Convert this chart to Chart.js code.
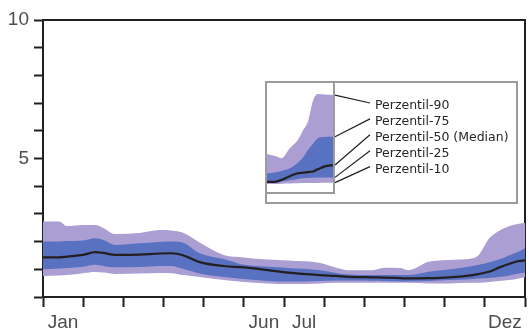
<!DOCTYPE html>
<html>
<head>
<meta charset="utf-8">
<script src="https://cdn.jsdelivr.net/npm/chart.js@4/dist/chart.umd.min.js"></script>
<style>
  html, body { margin: 0; padding: 0; background: #fff; }
  #wrap { position: relative; width: 529px; height: 334px; }
  #main { position: absolute; left: 0; top: 0; }
  #inset { position: absolute; left: 265px; top: 81px; }
</style>
</head>
<body>
<div id="wrap">
  <canvas id="main" width="529" height="334"></canvas>
  <canvas id="inset" width="253" height="123"></canvas>
</div>
<script>
// Monatsposition (0 = Anfang Jan, 12 = Ende Dez)
const monthPos = [0, 0.4, 0.6, 1.0, 1.3, 1.5, 1.8, 2.4, 2.9, 3.2, 3.5, 3.9, 4.5, 5.0, 5.6, 6.1, 6.9, 7.3, 7.6, 8.2, 8.5, 8.9, 9.1, 9.6, 10.1, 10.7, 10.85, 11.1, 11.35, 11.6, 11.85, 12];
const p90 = [2.73, 2.73, 2.56, 2.60, 2.60, 2.49, 2.27, 2.31, 2.42, 2.40, 2.31, 1.97, 1.52, 1.43, 1.35, 1.32, 1.23, 1.06, 0.97, 0.97, 1.06, 1.05, 0.97, 1.27, 1.34, 1.40, 1.52, 2.10, 2.38, 2.55, 2.64, 2.67];
const p75 = [2.00, 2.00, 2.02, 2.04, 2.12, 2.06, 1.88, 1.94, 1.99, 2.00, 1.95, 1.58, 1.37, 1.16, 1.09, 1.05, 0.97, 0.87, 0.81, 0.79, 0.79, 0.79, 0.79, 0.91, 0.99, 1.12, 1.16, 1.25, 1.35, 1.50, 1.64, 1.76];
const p50 = [1.43, 1.43, 1.46, 1.52, 1.62, 1.59, 1.52, 1.53, 1.57, 1.58, 1.50, 1.26, 1.12, 1.07, 0.97, 0.88, 0.79, 0.76, 0.73, 0.71, 0.70, 0.68, 0.67, 0.68, 0.71, 0.79, 0.83, 0.91, 1.06, 1.19, 1.30, 1.32];
const p25 = [1.00, 1.03, 1.05, 1.09, 1.16, 1.12, 1.07, 1.08, 1.12, 1.12, 1.01, 0.85, 0.72, 0.65, 0.58, 0.56, 0.58, 0.60, 0.60, 0.59, 0.58, 0.56, 0.56, 0.58, 0.61, 0.65, 0.67, 0.69, 0.72, 0.78, 0.85, 0.88];
const p10 = [0.76, 0.78, 0.79, 0.86, 0.90, 0.88, 0.83, 0.85, 0.87, 0.86, 0.79, 0.72, 0.61, 0.54, 0.49, 0.47, 0.49, 0.51, 0.51, 0.51, 0.51, 0.51, 0.51, 0.49, 0.49, 0.51, 0.51, 0.54, 0.58, 0.61, 0.67, 0.71];

const monthLabels = ['Jan', '', '', '', '', 'Jun', 'Jul', '', '', '', '', 'Dez'];
const yTickLabels = [5, 10];

// Legende (Ausschnitt)
const insetPos = [0, 1.2, 2.2, 3.4, 4.6, 5.4, 6.1, 6.9, 7.6, 8.5, 10];
const insetP90 = [1.77, 1.68, 1.58, 2.03, 2.41, 2.86, 3.24, 4.23, 4.50, 4.48, 4.45];
const insetP75 = [0.90, 0.93, 1.00, 1.12, 1.38, 1.62, 1.95, 2.25, 2.49, 2.55, 2.56];
const insetP50 = [0.51, 0.51, 0.60, 0.76, 0.90, 0.92, 0.95, 0.98, 1.08, 1.20, 1.27];
const insetP25 = [0.47, 0.47, 0.52, 0.58, 0.64, 0.67, 0.68, 0.69, 0.70, 0.71, 0.71];
const insetP10 = [0.41, 0.41, 0.42, 0.43, 0.44, 0.45, 0.45, 0.46, 0.46, 0.47, 0.47];
const insetLabels = ['Perzentil-90', 'Perzentil-75', 'Perzentil-50 (Median)', 'Perzentil-25', 'Perzentil-10'];

const ink = '#231f20';
const light = 'rgb(170,158,211)';
const dark = 'rgb(88,113,192)';
const none = 'rgba(0,0,0,0)';
const tickFont = { family: "'Liberation Sans', Arial, sans-serif", size: 19 };

function pts(xs, ys) {
    return xs.map((x, i) => ({ x: x, y: ys[i] }));
}

// gleiche Reihenfolge in beiden Charts: Median oben, Bänder darunter
function bandDatasets(xs, s90, s75, s50, s25, s10, tension) {
    const base = { pointRadius: 0, cubicInterpolationMode: 'monotone', tension: tension };
    return [
        { ...base, label: 'P50', data: pts(xs, s50), borderColor: ink, borderWidth: 2.2, fill: false },
        { ...base, label: 'P75', data: pts(xs, s75), borderColor: none, backgroundColor: dark, fill: 3 },
        { ...base, label: 'P90', data: pts(xs, s90), borderColor: none, backgroundColor: light, fill: 4 },
        { ...base, label: 'P25', data: pts(xs, s25), borderColor: none, fill: false },
        { ...base, label: 'P10', data: pts(xs, s10), borderColor: none, fill: false }
    ];
}

// Rahmen oben und rechts
const framePlugin = {
    id: 'frame',
    beforeDatasetsDraw(chart) {
        const { ctx, chartArea: a } = chart;
        ctx.save();
        ctx.strokeStyle = ink;
        ctx.lineWidth = 2;
        ctx.beginPath();
        ctx.moveTo(a.left, a.top);
        ctx.lineTo(a.right, a.top);
        ctx.lineTo(a.right, a.bottom);
        ctx.stroke();
        ctx.restore();
    }
};

const xTickValues = [];
for (let i = 0; i <= 12; i++) {
    xTickValues.push(i);
    if (i < 12) xTickValues.push(i + 0.5);
}

new Chart(document.getElementById('main'), {
    type: 'line',
    data: { datasets: bandDatasets(monthPos, p90, p75, p50, p25, p10) },
    options: {
        responsive: false,
        animation: false,
        devicePixelRatio: 1,
        layout: { padding: { top: 20, right: 2, left: 0, bottom: 0 } },
        plugins: { legend: { display: false }, tooltip: { enabled: false } },
        scales: {
            x: {
                type: 'linear', min: 0, max: 12,
                afterBuildTicks: s => { s.ticks = xTickValues.map(v => ({ value: v })); },
                afterFit: s => { s.height = 37; },
                ticks: {
                    autoSkip: false, maxRotation: 0, padding: 4,
                    font: tickFont, color: '#4d4d4d',
                    callback: v => (v % 1 === 0 ? '' : monthLabels[Math.floor(v)])
                },
                grid: {
                    drawOnChartArea: false, drawTicks: true, tickLength: 10, tickWidth: 2,
                    tickColor: c => (c.tick && c.tick.value % 1 === 0 ? ink : none)
                },
                border: { color: ink, width: 2 }
            },
            y: {
                min: 0, max: 10,
                afterFit: s => { s.width = 43; },
                ticks: {
                    stepSize: 1, padding: 5,
                    font: tickFont, color: '#4d4d4d',
                    callback: v => (yTickLabels.includes(v) ? String(v) : '')
                },
                grid: { drawOnChartArea: false, drawTicks: true, tickLength: 9, tickWidth: 2, tickColor: ink },
                border: { color: ink, width: 2 }
            }
        }
    },
    plugins: [framePlugin]
});

// Kasten, Hinweislinien und Beschriftung der Legende
const insetPlugin = {
    id: 'insetLegend',
    afterDraw(chart) {
        const { ctx, chartArea: a } = chart;
        const yScale = chart.scales.y;
        ctx.save();
        ctx.strokeStyle = '#9b9b9b';
        ctx.lineWidth = 2;
        ctx.strokeRect(1, 1, chart.width - 2, chart.height - 2);
        ctx.beginPath();
        ctx.moveTo(a.right, 1);
        ctx.lineTo(a.right, a.bottom);
        ctx.lineTo(1, a.bottom);
        ctx.stroke();

        const series = [insetP90, insetP75, insetP50, insetP25, insetP10];
        ctx.strokeStyle = ink;
        ctx.lineWidth = 1.2;
        ctx.fillStyle = '#262626';
        ctx.font = "12.5px 'DejaVu Sans', sans-serif";
        ctx.textBaseline = 'middle';
        insetLabels.forEach((txt, i) => {
            const last = series[i][series[i].length - 1];
            const ly = a.top + 23 + i * 15.9;
            ctx.beginPath();
            ctx.moveTo(a.right + 1, yScale.getPixelForValue(last));
            ctx.lineTo(a.right + 36, ly - 3);
            ctx.stroke();
            ctx.fillText(txt, a.right + 41, ly);
        });
        ctx.restore();
    }
};

new Chart(document.getElementById('inset'), {
    type: 'line',
    data: { datasets: bandDatasets(insetPos, insetP90, insetP75, insetP50, insetP25, insetP10, 0.2) },
    options: {
        responsive: false,
        animation: false,
        devicePixelRatio: 1,
        layout: { padding: { left: 2, top: 2, right: 184, bottom: 11 } },
        plugins: { legend: { display: false }, tooltip: { enabled: false } },
        scales: {
            x: { type: 'linear', display: false, min: 0, max: 10 },
            y: { display: false, min: 0, max: 5 }
        }
    },
    plugins: [insetPlugin]
});
</script>
</body>
</html>
